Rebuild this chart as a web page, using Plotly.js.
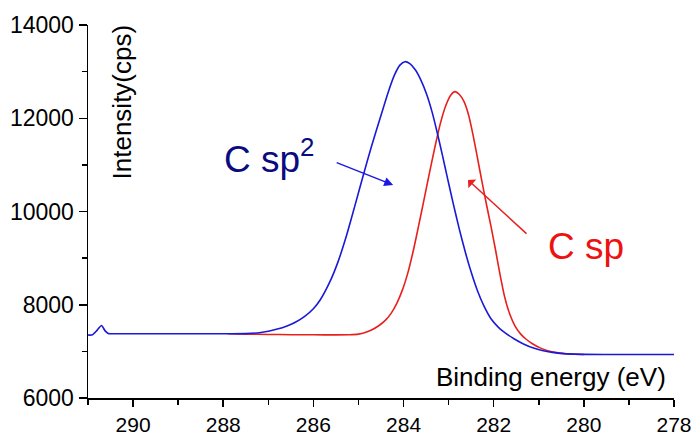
<!DOCTYPE html>
<html>
<head>
<meta charset="utf-8">
<script src="https://cdn.plot.ly/plotly-3.0.1.min.js"></script>
<style>html,body{margin:0;padding:0;background:#fff;}#chart{width:694px;height:435px;}</style>
</head>
<body>
<div id="chart"></div>
<script>
// C sp2 component (blue)
const spTwoEnergy = [291.00,290.90,290.80,290.70,290.62,290.55,290.40,290.00,289.00,288.00,287.50,287.20,287.00,286.80,286.60,286.40,286.20,286.00,285.85,285.63,285.45,285.26,285.08,284.89,284.71,284.52,284.34,284.20,284.08,283.97,283.86,283.74,283.62,283.49,283.36,283.26,283.14,283.04,282.90,282.76,282.63,282.50,282.36,282.22,282.06,281.90,281.79,281.55,281.34,281.10,280.90,280.70,280.53,280.20,279.50,279.00,278.00];
const spTwoIntensity = [7350,7355,7450,7555,7440,7385,7378,7378,7378,7378,7380,7400,7430,7478,7540,7625,7745,7915,8102,8500,8930,9500,10120,10790,11400,12000,12560,12930,13140,13213,13170,13040,12830,12520,12110,11720,11220,10780,10180,9610,9130,8700,8300,7980,7700,7520,7430,7270,7160,7065,7012,6978,6958,6940,6933,6932,6932];
// C sp component (red)
const spEnergy = [287.90,287.50,287.00,286.50,286.00,285.50,285.20,285.00,284.85,284.70,284.55,284.40,284.28,284.15,284.02,283.90,283.78,283.66,283.54,283.42,283.30,283.18,283.06,282.95,282.86,282.76,282.66,282.56,282.46,282.36,282.26,282.16,282.06,281.96,281.86,281.76,281.64,281.52,281.40,281.28,281.15,280.97,280.80,280.60,280.40,280.20,280.00];
const spIntensity = [7378,7370,7363,7358,7355,7353,7356,7370,7405,7465,7550,7670,7810,8030,8330,8700,9174,9720,10280,10850,11400,11900,12280,12500,12570,12510,12360,12080,11650,11150,10640,10150,9680,9180,8650,8180,7790,7530,7370,7260,7170,7075,7015,6973,6950,6938,6933];
const xTicks = [290,288,286,284,282,280,278];
const yTicks = [6000,8000,10000,12000,14000];

const traces = [
  {x: spEnergy, y: spIntensity, type:'scatter', mode:'lines', line:{color:'#e8201c', width:1.6, shape:'spline', smoothing:0.6}, hoverinfo:'skip'},
  {x: spTwoEnergy, y: spTwoIntensity, type:'scatter', mode:'lines', line:{color:'#1a1ad6', width:1.6, shape:'spline', smoothing:0.6}, hoverinfo:'skip'}
];

const font = "Arial, 'Liberation Sans', sans-serif";
const layout = {
  width:694, height:435,
  margin:{l:88, r:20, t:25, b:37, pad:0},
  paper_bgcolor:'#fff', plot_bgcolor:'#fff',
  showlegend:false,
  font:{family:font, color:'#000'},
  xaxis:{range:[291,278], tickvals:xTicks, ticktext:xTicks.map(String), ticks:'outside', ticklen:7, tickwidth:1.5, tickcolor:'#000',
         showline:true, linecolor:'#000', linewidth:1.5, showgrid:false, zeroline:false, mirror:false,
         tickfont:{size:21, family:font, color:'#000'},
         minor:{ticks:'outside', ticklen:5, tickwidth:1.5, tickcolor:'#000', dtick:1, tick0:279, showgrid:false}},
  yaxis:{range:[6000,14000], tickvals:yTicks, ticktext:yTicks.map(String), ticks:'outside', ticklen:8, tickwidth:1.5, tickcolor:'#000',
         showline:true, linecolor:'#000', linewidth:1.5, showgrid:false, zeroline:false, mirror:false,
         tickfont:{size:23, family:font, color:'#000'},
         minor:{ticks:'outside', ticklen:5, tickwidth:1.5, tickcolor:'#000', dtick:1000, tick0:7000, showgrid:false}},
  annotations:[
    {xref:'paper', yref:'paper', x:0.99, y:0.056, xanchor:'right', yanchor:'middle', text:'Binding energy (eV)', showarrow:false, font:{size:26, family:font, color:'#000'}},
    {xref:'paper', yref:'paper', x:0.058, y:0.795, xanchor:'center', yanchor:'middle', text:'Intensity(cps)', textangle:-90, showarrow:false, font:{size:26, family:font, color:'#000'}},
    {xref:'paper', yref:'paper', x:0.228, y:0.648, xanchor:'left', yanchor:'middle', text:'C sp<sup>2</sup>', showarrow:false, font:{size:37, family:font, color:'#0b0b80'}},
    {xref:'paper', yref:'paper', x:0.781, y:0.405, xanchor:'left', yanchor:'middle', text:'C sp', showarrow:false, font:{size:37, family:font, color:'#ee1111'}},
    {x:284.23, y:10568, xref:'x', yref:'y', text:'', showarrow:true, arrowhead:2, arrowsize:1.2, arrowwidth:1.5, arrowcolor:'#1a1ae6', ax:-58, ay:-23},
    {x:282.57, y:10676, xref:'x', yref:'y', text:'', showarrow:true, arrowhead:1, arrowsize:1.3, arrowwidth:1.5, arrowcolor:'#e82020', ax:60, ay:55}
  ]
};
Plotly.newPlot('chart', traces, layout, {staticPlot:true, displayModeBar:false});
</script>
</body>
</html>
